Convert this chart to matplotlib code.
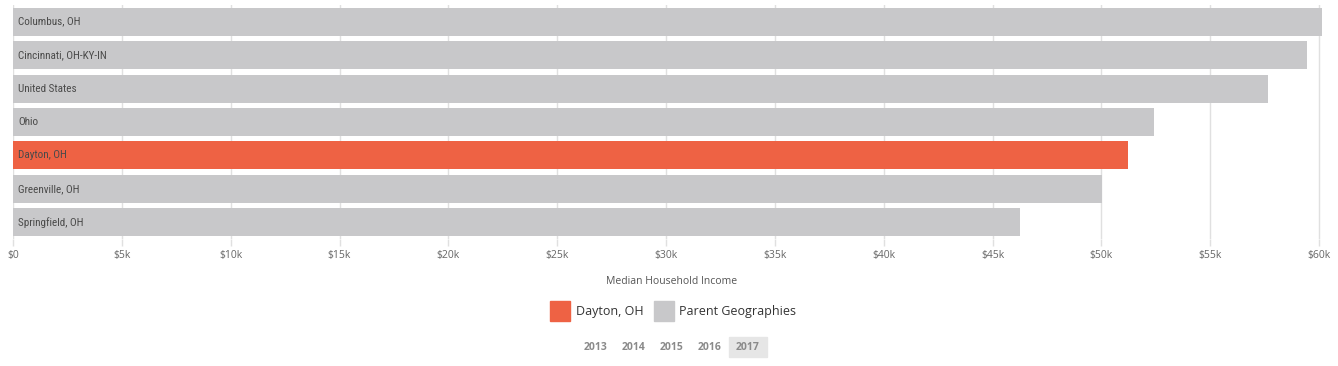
import matplotlib.pyplot as plt
from matplotlib.patches import Rectangle

places = ['Columbus, OH', 'Cincinnati, OH-KY-IN', 'United States', 'Ohio',
          'Dayton, OH', 'Greenville, OH', 'Springfield, OH']
income = [60140, 59450, 57652, 52407, 51200, 50030, 46280]
highlight = 'Dayton, OH'
years = ['2013', '2014', '2015', '2016', '2017']
active_year = '2017'
ticks = [0, 5000, 10000, 15000, 20000, 25000, 30000, 35000, 40000, 45000,
         50000, 55000, 60000]
tick_labels = ['$0' if t == 0 else '$%dk' % (t // 1000) for t in ticks]

ORANGE = '#ee6244'
GREY = '#c8c8ca'
W, H = 1338, 366

fig = plt.figure(figsize=(W / 100, H / 100), dpi=100)
ax = fig.add_axes([13 / W, (H - 239) / H, (1330 - 13) / W, 234 / H])

colors = [ORANGE if p == highlight else GREY for p in places]
ax.barh(range(len(places)), income, height=0.84, color=colors, zorder=2)
for i, p in enumerate(places):
    ax.text(250, i, p, va='center', ha='left', fontsize=8,
            family=['DejaVu Sans Condensed', 'Liberation Sans Narrow',
                    'Roboto Condensed', 'Roboto'],
            color='#4a4a4a', zorder=3)

ax.set_ylim(6.5, -0.5)
ax.set_xlim(0, 60500)
ax.set_yticks([])
ax.set_xticks(ticks)
ax.set_xticklabels(tick_labels, fontsize=7.5, color='#666666',
                   family='Open Sans')
ax.tick_params(axis='x', length=5, width=1, color='#e0e0e0', pad=3)
ax.grid(axis='x', color='#e0e0e0', lw=1, zorder=1)
for s in ax.spines.values():
    s.set_visible(False)

fig.text(672 / W, 1 - 282 / H, 'Median Household Income', ha='center',
         va='center', fontsize=7.5, color='#555555', family='Open Sans')

# legend
fig.patches.append(Rectangle((550 / W, 1 - 321 / H), 20 / W, 20 / H,
                             color=ORANGE, transform=fig.transFigure))
fig.text(576 / W, 1 - 311 / H, 'Dayton, OH', va='center', fontsize=9,
         color='#333333', family='Open Sans')
fig.patches.append(Rectangle((654 / W, 1 - 321 / H), 20 / W, 20 / H,
                             color=GREY, transform=fig.transFigure))
fig.text(679 / W, 1 - 311 / H, 'Parent Geographies', va='center',
         fontsize=9, color='#333333', family='Open Sans')

# year selector
xs = [596, 634, 672, 710, 748]
for x, y in zip(xs, years):
    if y == active_year:
        fig.patches.append(Rectangle((729 / W, 1 - 357 / H), 38 / W, 20 / H,
                                     color='#e6e6e6',
                                     transform=fig.transFigure))
    fig.text(x / W, 1 - 347 / H, y, ha='center', va='center', fontsize=7.5,
             color='#8a8a8a', fontweight='bold', family='Open Sans')

fig.savefig('out.png', dpi=100)
